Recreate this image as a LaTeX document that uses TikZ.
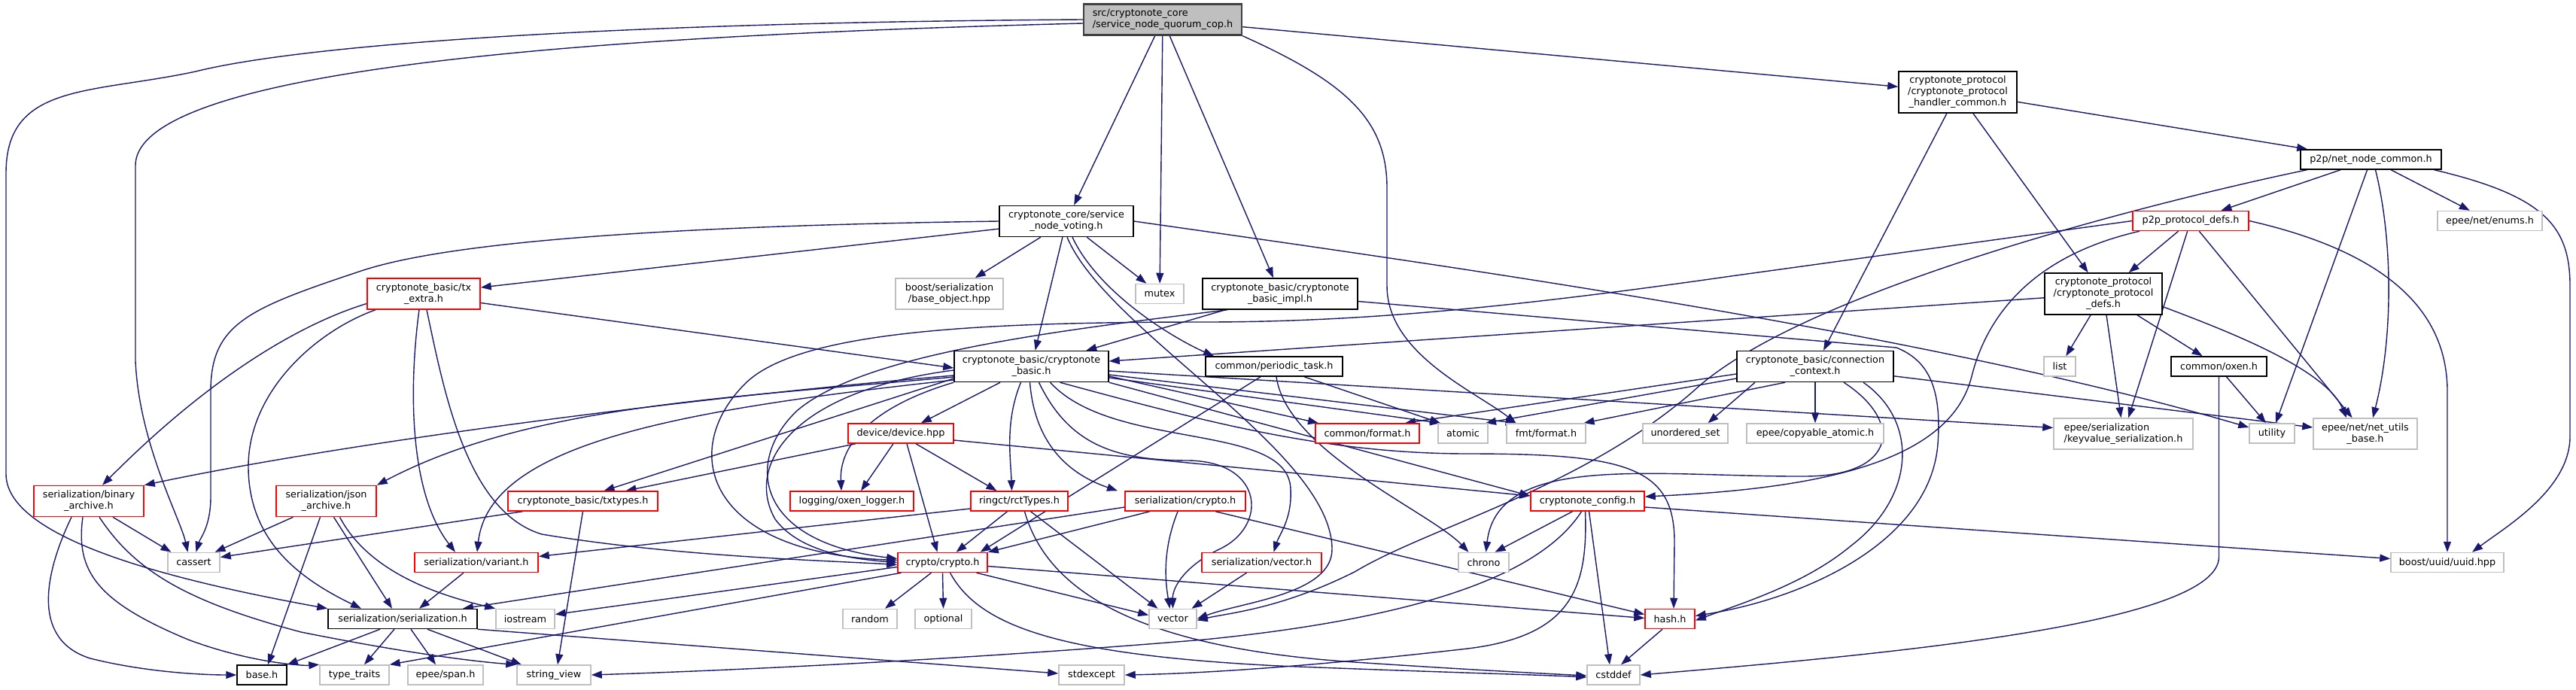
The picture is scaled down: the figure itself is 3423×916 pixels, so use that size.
\documentclass[tikz,border=0pt]{standalone}
\usepackage{fontspec}
\setmainfont{DejaVu Sans}
\usetikzlibrary{arrows.meta}
\definecolor{edgec}{HTML}{191970}
\definecolor{grayb}{HTML}{BFBFBF}
\definecolor{rootb}{HTML}{404040}
\definecolor{rootf}{HTML}{BFBFBF}
\newcommand{\nodefnt}{\fontsize{12.8}{15}\selectfont}
\pgfdeclarelayer{bglayer}
\pgfdeclarelayer{edgelayer}
\pgfsetlayers{bglayer,edgelayer,main}
\begin{document}
\begin{tikzpicture}[x=1pt,y=-1pt,
  bx/.style={draw, line width=1.5pt, fill=white, inner sep=0pt, font=\nodefnt, align=center},
  blk/.style={bx, draw=black},
  redb/.style={bx, draw=red},
  gryb/.style={bx, draw=grayb},
  rootn/.style={bx, draw=rootb, fill=rootf, line width=2.5pt, align=left},
  conn/.style={draw=edgec, line width=1.4pt, -{Triangle[length=14pt,width=10pt]}},
  s1/.style={minimum height=26},
  s2/.style={minimum height=41},
  s3/.style={minimum height=55}
]
\useasboundingbox (0,0) rectangle (3423,916);
\begin{pgfonlayer}{bglayer}
\fill[white] (0,0) rectangle (3423,916);
\end{pgfonlayer}

% ---- nodes ----
\node[rootn, s2, minimum width=210] (R) at (1545,26) {src/cryptonote\_core\\/service\_node\_quorum\_cop.h};
\node[blk, s2, minimum width=178] (V) at (1417,294) {cryptonote\_core/service\\\_node\_voting.h};
\node[gryb, s2, minimum width=143] (BO) at (1261.5,390.5) {boost/serialization\\/base\_object.hpp};
\node[gryb, s1, minimum width=64] (MU) at (1541,390.5) {mutex};
\node[blk, s2, minimum width=206] (I) at (1701,390.5) {cryptonote\_basic/cryptonote\\\_basic\_impl.h};
\node[redb, s2, minimum width=150] (TE) at (563,390.5) {cryptonote\_basic/tx\\\_extra.h};
\node[blk, s3, minimum width=157] (H) at (2601.5,122.5) {cryptonote\_protocol\\/cryptonote\_protocol\\\_handler\_common.h};
\node[blk, s1, minimum width=187] (N) at (3150.5,212) {p2p/net\_node\_common.h};
\node[redb, s1, minimum width=154] (P) at (2911,293.5) {p2p\_protocol\_defs.h};
\node[gryb, s1, minimum width=139] (EN) at (3308.5,293.5) {epee/net/enums.h};
\node[blk, s3, minimum width=156] (D) at (2795,390.5) {cryptonote\_protocol\\/cryptonote\_protocol\\\_defs.h};
\node[blk, s2, minimum width=205] (B) at (1370.5,487) {cryptonote\_basic/cryptonote\\\_basic.h};
\node[blk, s1, minimum width=182] (PT) at (1693,487) {common/periodic\_task.h};
\node[blk, s2, minimum width=208] (C) at (2412,487) {cryptonote\_basic/connection\\\_context.h};
\node[gryb, s1, minimum width=42] (L) at (2737,487) {list};
\node[blk, s1, minimum width=127] (OX) at (2948.5,487) {common/oxen.h};
\node[redb, s1, minimum width=140] (DV) at (1197,576) {device/device.hpp};
\node[redb, s1, minimum width=138] (CF) at (1817,576) {common/format.h};
\node[gryb, s1, minimum width=66] (AT) at (1944,576) {atomic};
\node[gryb, s1, minimum width=105] (FF) at (2054.5,576) {fmt/format.h};
\node[gryb, s1, minimum width=113] (US) at (2239.5,576) {unordered\_set};
\node[gryb, s1, minimum width=182] (CA) at (2412,576) {epee/copyable\_atomic.h};
\node[gryb, s2, minimum width=185, align=left] (KV) at (2821.5,576.5) {epee/serialization\\/keyvalue\_serialization.h};
\node[gryb, s1, minimum width=60] (UT) at (3019,576) {utility};
\node[gryb, s2, minimum width=138] (NU) at (3143,576.5) {epee/net/net\_utils\\\_base.h};
\node[redb, s2, minimum width=146] (BA) at (118,666) {serialization/binary\\\_archive.h};
\node[redb, s2, minimum width=133] (JA) at (433.5,666) {serialization/json\\\_archive.h};
\node[redb, s1, minimum width=199] (TX) at (774.5,666) {cryptonote\_basic/txtypes.h};
\node[redb, s1, minimum width=164] (LG) at (1132,666) {logging/oxen\_logger.h};
\node[redb, s1, minimum width=129] (RT) at (1354.5,666) {ringct/rctTypes.h};
\node[redb, s1, minimum width=160] (SC) at (1575,666) {serialization/crypto.h};
\node[redb, s1, minimum width=151] (G) at (2109.5,666) {cryptonote\_config.h};
\node[gryb, s1, minimum width=150] (UU) at (3252,747.5) {boost/uuid/uuid.hpp};
\node[gryb, s1, minimum width=69] (CS) at (257.5,747.5) {cassert};
\node[redb, s1, minimum width=164] (VA) at (633,747.5) {serialization/variant.h};
\node[redb, s1, minimum width=119] (CR) at (1252.5,747.5) {crypto/crypto.h};
\node[redb, s1, minimum width=159] (SV) at (1676.5,747.5) {serialization/vector.h};
\node[gryb, s1, minimum width=67] (CH) at (1971.5,747.5) {chrono};
\node[blk, s1, minimum width=198] (S) at (535,822.5) {serialization/serialization.h};
\node[gryb, s1, minimum width=78] (IO) at (698,822.5) {iostream};
\node[gryb, s1, minimum width=72] (RA) at (1156,822.5) {random};
\node[gryb, s1, minimum width=75] (OP) at (1253.5,822.5) {optional};
\node[gryb, s1, minimum width=63] (VE) at (1558.5,822.5) {vector};
\node[redb, s1, minimum width=66] (HA) at (2219,822.5) {hash.h};
\node[blk, s1, minimum width=66] (BH) at (348,897) {base.h};
\node[gryb, s1, minimum width=92] (TT) at (471,897) {type\_traits};
\node[gryb, s1, minimum width=100] (SP) at (592,897) {epee/span.h};
\node[gryb, s1, minimum width=98] (STV) at (736,897) {string\_view};
\node[gryb, s1, minimum width=87] (SE) at (1450.5,897) {stdexcept};
\node[gryb, s1, minimum width=70] (CD) at (2144,897) {cstddef};

% ---- edges ----
\begin{pgfonlayer}{edgelayer}
% root
\draw[conn] (R.west) .. controls (800,30) and (400,60) .. (260,95) .. controls (120,125) and (8,110) .. (8,230) -- (8,630) .. controls (8,720) and (250,775) .. (S.north west);
\draw[conn] ([yshift=-5pt]R.west) .. controls (900,45) and (180,80) .. (180,220) -- (180,480) .. controls (185,590) and (240,690) .. ([xshift=-8pt]CS.north);
\draw[conn] (R) -- (V);
\draw[conn] (R) -- (MU);
\draw[conn] (R) -- (I);
\draw[conn] (R) -- (H);
\draw[conn] (R.south east) .. controls (1790,110) and (1843,160) .. (1843,250) -- (1843,380) .. controls (1843,470) and (1960,520) .. ([xshift=-40pt]FF.north);
% voting
\draw[conn] (V.west) .. controls (900,300) and (600,320) .. (480,360) .. controls (330,410) and (280,430) .. (280,520) -- (280,660) .. controls (280,700) and (266,715) .. ([xshift=3pt]CS.north);
\draw[conn] (V) -- (TE);
\draw[conn] (V) -- (BO);
\draw[conn] (V) -- (B);
\draw[conn] (V) -- (MU);
\draw[conn] ([xshift=8pt]V.south) .. controls (1460,390) and (1560,450) .. ([xshift=-80pt]PT.north);
\draw[conn] ([xshift=1pt]V.south) .. controls (1470,440) and (1770,600) .. (1770,730) .. controls (1770,790) and (1650,800) .. (VE.east);
\draw[conn] (V.east) .. controls (1900,350) and (2550,440) .. ([yshift=8pt]UT.west);
% impl
\draw[conn] (I) -- (B);
\draw[conn] ([xshift=-70pt]I.south) .. controls (1400,440) and (1150,470) .. (1060,545) .. controls (990,610) and (1000,720) .. ([yshift=5pt]CR.west);
\draw[conn] ([yshift=-10pt]I.east) -- (2520,462) .. controls (2565,480) and (2580,520) .. (2575,590) .. controls (2565,720) and (2400,795) .. ([yshift=4pt]HA.east);
% handler common
\draw[conn] (H) -- (N);
\draw[conn] (H) -- (C);
\draw[conn] (H) -- (D);
% net node common
\draw[conn] (N) -- (P);
\draw[conn] (N) -- (EN);
\draw[conn] (N) -- (UT);
\draw[conn] ([xshift=6pt]N.south) .. controls (3180,320) and (3180,450) .. ([xshift=10pt]NU.north);
\draw[conn] ([xshift=84pt]N.south) .. controls (3380,260) and (3415,300) .. (3415,380) -- (3415,580) .. controls (3415,650) and (3330,700) .. ([xshift=33pt]UU.north);
\draw[conn] ([xshift=-85pt]N.south) .. controls (2900,260) and (2400,380) .. (2250,520) .. controls (2100,650) and (1900,700) .. (1800,760) .. controls (1700,810) and (1630,815) .. ([yshift=-2pt]VE.east);
% p2p protocol defs
\draw[conn] (P) -- (D);
\draw[conn] (P.west) -- (2300,367) .. controls (2000,410) and (1800,428) .. (1600,428) .. controls (1300,428) and (1060,440) .. (990,510) .. controls (900,600) and (940,735) .. ([yshift=3pt]CR.west);
\draw[conn] ([xshift=-68pt]P.south) .. controls (2700,340) and (2640,420) .. (2620,500) .. controls (2590,620) and (2400,650) .. ([yshift=6pt]G.east);
\draw[conn] (P) -- (KV);
\draw[conn] (P) -- (NU);
\draw[conn] (P.east) .. controls (3150,330) and (3252,400) .. (3252,520) -- (UU.north);
% protocol defs
\draw[conn] (D) -- (B);
\draw[conn] (D) -- (L);
\draw[conn] (D) -- (KV);
\draw[conn] (D) -- (OX);
\draw[conn] ([yshift=-17pt]D.east) .. controls (2960,440) and (3090,490) .. ([xshift=-25pt]NU.north);
% connection context
\draw[conn] (C) -- (CA);
\draw[conn] ([yshift=-10pt]C.west) -- ([xshift=50pt]CF.north);
\draw[conn] ([yshift=-16pt]C.west) -- ([xshift=30pt]AT.north);
\draw[conn] ([xshift=-80pt]C.south) -- ([xshift=30pt]US.north);
\draw[conn] ([xshift=-40pt]C.south) -- ([xshift=50pt]FF.north);
\draw[conn] ([xshift=38pt]C.south) .. controls (2530,560) and (2520,632) .. (2400,633) .. controls (2200,634) and (1990,600) .. ([xshift=3pt]CH.north);
\draw[conn] ([xshift=64pt]C.south) .. controls (2550,560) and (2545,660) .. (2460,725) .. controls (2400,775) and (2320,800) .. ([yshift=-2pt]HA.east);
\draw[conn] (C) -- (NU);
% cryptonote basic
\draw[conn] ([yshift=-12pt]B.west) .. controls (900,530) and (450,590) .. (BA.north east);
\draw[conn] ([yshift=-14pt]B.west) .. controls (950,530) and (700,540) .. (JA.north east);
\draw[conn] ([yshift=-16pt]B.west) -- ([xshift=28pt]TX.north);
\draw[conn] ([yshift=-18pt]B.west) .. controls (900,545) and (650,590) .. ([xshift=1pt]VA.north);
\draw[conn] (B) -- (DV);
\draw[conn] (B.south west) .. controls (1160,540) and (1115,590) .. ([xshift=-14pt]LG.north);
\draw[conn] ([xshift=-14pt]B.south) .. controls (1335,560) and (1343,610) .. ([xshift=-10pt]RT.north);
\draw[conn] ([xshift=-2pt]B.south) .. controls (1375,590) and (1420,630) .. ([xshift=-90pt]SC.north);
\draw[conn] ([xshift=10pt]B.south) .. controls (1420,590) and (1480,612) .. (1580,612) .. controls (1680,614) and (1685,700) .. (1620,730) .. controls (1575,752) and (1558,780) .. (VE.north);
\draw[conn] ([xshift=25pt]B.south) .. controls (1480,600) and (1712,560) .. (1715,650) .. controls (1717,690) and (1700,710) .. ([xshift=16pt]SV.north);
\draw[conn] ([xshift=38pt]B.south) .. controls (1600,560) and (1760,603) .. (1950,603) .. controls (2160,603) and (2225,620) .. (2225,720) -- ([xshift=5pt]HA.north);
\draw[conn] ([yshift=-13pt]B.east) -- ([xshift=-65pt]CF.north);
\draw[conn] ([yshift=-15pt]B.east) -- ([xshift=-30pt]AT.north);
\draw[conn] ([yshift=-11pt]B.east) -- ([xshift=-40pt]FF.north);
\draw[conn] (B.south east) -- ([yshift=7pt]G.west);
\draw[conn] ([yshift=-6pt]B.east) -- ([yshift=8pt]KV.west);
\draw[conn] ([yshift=-5pt]B.west) .. controls (1050,520) and (990,620) .. (1030,690) .. controls (1060,730) and (1120,742) .. (CR.west);
% device
\draw[conn] ([xshift=-60pt]DV.south) -- ([xshift=57pt]TX.north);
\draw[conn] ([xshift=-10pt]DV.south) -- ([xshift=12pt]LG.north);
\draw[conn] ([xshift=8pt]DV.south) -- ([xshift=-7pt]CR.north);
\draw[conn] ([xshift=20pt]DV.south) -- ([xshift=-30pt]RT.north);
\draw[conn] ([yshift=-9pt]DV.east) -- ([yshift=7pt]G.west);
% rctTypes
\draw[conn] ([xshift=-16pt]RT.south) -- ([xshift=18pt]CR.north);
\draw[conn] ([xshift=15pt]RT.south) -- ([xshift=-20pt]VE.north);
\draw[conn] ([xshift=7pt]RT.south) .. controls (1390,780) and (1500,860) .. (1800,880) .. controls (1950,890) and (2050,895) .. ([yshift=-1pt]CD.west);
\draw[conn] ([yshift=-10pt]RT.west) -- ([yshift=8pt]VA.east);
% serialization/crypto
\draw[conn] ([xshift=-47pt]SC.south) -- (CR.north east);
\draw[conn] ([xshift=-10pt]SC.south) .. controls (1545,730) and (1548,770) .. ([xshift=-4pt]VE.north);
\draw[conn] ([xshift=40pt]SC.south) -- ([yshift=6pt]HA.west);
\draw[conn] ([yshift=-8pt]SC.west) -- ([xshift=80pt]S.north);
% periodic task
\draw[conn] ([xshift=-18pt]PT.south) -- ([xshift=50pt]CR.north);
\draw[conn] ([xshift=3pt]PT.south) .. controls (1710,600) and (1900,680) .. ([xshift=-20pt]CH.north);
\draw[conn] ([xshift=40pt]PT.south) -- ([xshift=-30pt]AT.north);
% oxen
\draw[conn] ([xshift=10pt]OX.south) -- ([xshift=-8pt]UT.north);
\draw[conn] (OX.south) -- (2948.5,740) .. controls (2948.5,830) and (2500,870) .. (CD.east);
% config
\draw[conn] ([xshift=-20pt]G.south) -- ([xshift=15pt]CH.north);
\draw[conn] ([xshift=-8pt]G.south) .. controls (2050,760) and (1900,820) .. (1600,850) .. controls (1300,875) and (1000,890) .. (STV.east);
\draw[conn] ([xshift=-3pt]G.south) .. controls (2110,780) and (2090,845) .. (1950,862) .. controls (1750,885) and (1600,895) .. (SE.east);
\draw[conn] ([xshift=2pt]G.south) -- ([xshift=-5pt]CD.north);
\draw[conn] ([yshift=-8pt]G.east) -- ([yshift=5pt]UU.west);
% others
\draw[conn] ([xshift=-10pt]HA.south) -- ([xshift=10pt]CD.north);
\draw[conn] ([xshift=-20pt]SV.south) -- ([xshift=25pt]VE.north);
\draw[conn] ([xshift=-15pt]CR.south) -- ([xshift=20pt]RA.north);
\draw[conn] (CR.south) -- (OP.north);
\draw[conn] ([xshift=45pt]CR.south) -- ([yshift=5pt]VE.west);
\draw[conn] ([yshift=-5pt]CR.east) -- ([yshift=1pt]HA.west);
\draw[conn] ([yshift=-6pt]CR.west) -- ([yshift=6pt]IO.east);
\draw[conn] ([xshift=-55pt]CR.south) -- (TT.north east);
\draw[conn] ([xshift=10pt]CR.south) .. controls (1300,830) and (1400,870) .. (1700,885) .. controls (1900,893) and (2050,897) .. ([yshift=-3pt]CD.west);
% serialization.h
\draw[conn] ([xshift=-30pt]S.south) -- (BH.north east);
\draw[conn] ([xshift=-11pt]S.south) -- ([xshift=13pt]TT.north);
\draw[conn] ([xshift=11pt]S.south) -- ([xshift=-13pt]SP.north);
\draw[conn] ([xshift=33pt]S.south) -- ([xshift=-43pt]STV.north);
\draw[conn] (S.south east) -- ([yshift=2pt]SE.west);
\draw[conn] ([xshift=-17pt]VA.south) -- ([xshift=22pt]S.north);
% tx_extra
\draw[conn] ([xshift=-64pt]TE.south) .. controls (420,440) and (330,520) .. (330,620) .. controls (330,720) and (400,770) .. ([xshift=-55pt]S.north);
\draw[conn] ([yshift=-13pt]TE.west) .. controls (400,430) and (280,500) .. ([xshift=18pt]BA.north);
\draw[conn] ([xshift=-6pt]TE.south) .. controls (545,500) and (540,650) .. ([xshift=-28pt]VA.north);
\draw[conn] ([xshift=4pt]TE.south) .. controls (590,520) and (620,680) .. (720,710) .. controls (900,740) and (1100,745) .. ([yshift=-3pt]CR.west);
\draw[conn] ([yshift=-12pt]TE.east) -- ([yshift=-2pt]B.west);
% binary archive
\draw[conn] ([xshift=32pt]BA.south) -- ([xshift=-30pt]CS.north);
\draw[conn] ([xshift=-23pt]BA.south) .. controls (60,760) and (40,850) .. (120,875) .. controls (200,895) and (280,897) .. (BH.west);
\draw[conn] ([xshift=-8pt]BA.south) .. controls (100,760) and (130,800) .. (250,850) .. controls (330,880) and (400,885) .. (TT.north west);
\draw[conn] ([xshift=14pt]BA.south) .. controls (180,760) and (250,800) .. (400,840) .. controls (550,870) and (640,880) .. (STV.north west);
% json archive
\draw[conn] ([xshift=-44pt]JA.south) -- ([xshift=28pt]CS.north);
\draw[conn] ([xshift=-8pt]JA.south) -- ([xshift=8pt]BH.north);
\draw[conn] ([xshift=10pt]JA.south) -- ([xshift=-14pt]S.north);
\draw[conn] ([xshift=18pt]JA.south) .. controls (490,760) and (580,790) .. (IO.north west);
% txtypes
\draw[conn] ([xshift=-80pt]TX.south) -- ([yshift=7pt]CS.east);
\draw[conn] (TX.south) -- ([xshift=5pt]STV.north);
\end{pgfonlayer}
\end{tikzpicture}
\end{document}
